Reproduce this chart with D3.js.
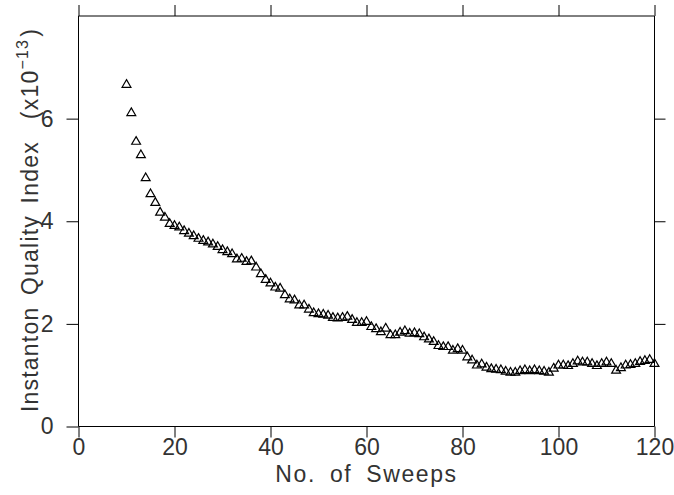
<!DOCTYPE html>
<html>
<head>
<meta charset="utf-8">
<script src="https://cdn.jsdelivr.net/npm/d3@7"></script>
<style>
  body { margin: 0; background: #fff; }
  text { font-family: 'Liberation Sans', Arial, sans-serif; fill: #333; }
</style>
</head>
<body>
<div id="chart"></div>
<script>
// sweep number and instanton quality index (units of 1e-13)
const sweeps = [
  10, 11, 12, 13, 14, 15, 16, 17, 18, 19, 20, 21, 22, 23, 24, 25, 26, 27, 28, 29,
  30, 31, 32, 33, 34, 35, 36, 37, 38, 39, 40, 41, 42, 43, 44, 45, 46, 47, 48, 49,
  50, 51, 52, 53, 54, 55, 56, 57, 58, 59, 60, 61, 62, 63, 64, 65, 66, 67, 68, 69,
  70, 71, 72, 73, 74, 75, 76, 77, 78, 79, 80, 81, 82, 83, 84, 85, 86, 87, 88, 89,
  90, 91, 92, 93, 94, 95, 96, 97, 98, 99, 100, 101, 102, 103, 104, 105, 106, 107, 108, 109,
  110, 111, 112, 113, 114, 115, 116, 117, 118, 119, 120
]
const quality = [
  6.66, 6.11, 5.55, 5.29, 4.84, 4.53, 4.36, 4.17, 4.07, 3.95, 3.91, 3.88, 3.81, 3.76, 3.71, 3.66, 3.62, 3.59, 3.55, 3.50,
  3.44, 3.40, 3.36, 3.26, 3.27, 3.21, 3.22, 3.10, 2.97, 2.86, 2.79, 2.71, 2.69, 2.56, 2.48, 2.46, 2.36, 2.36, 2.28, 2.21,
  2.19, 2.18, 2.16, 2.12, 2.11, 2.12, 2.14, 2.08, 2.02, 2.02, 2.04, 1.94, 1.90, 1.84, 1.91, 1.78, 1.78, 1.83, 1.86, 1.81,
  1.82, 1.80, 1.74, 1.70, 1.65, 1.57, 1.55, 1.55, 1.48, 1.51, 1.48, 1.35, 1.29, 1.19, 1.21, 1.15, 1.12, 1.11, 1.10, 1.07,
  1.05, 1.05, 1.08, 1.10, 1.08, 1.10, 1.08, 1.07, 1.05, 1.13, 1.19, 1.19, 1.18, 1.22, 1.27, 1.25, 1.25, 1.22, 1.18, 1.22,
  1.25, 1.22, 1.09, 1.14, 1.19, 1.20, 1.22, 1.26, 1.28, 1.30, 1.22
]
const xTicks = [0, 20, 40, 60, 80, 100, 120]
const yTicks = [0, 2, 4, 6]
const rightTicks = [2, 4, 6]

const width = 674
const height = 495
const plotLeft = 78.5
const plotRight = 654.5
const plotTop = 16
const plotBottom = 426.5

const xScale = d3.scaleLinear().domain([0, 120]).range([plotLeft, plotRight])
const yScale = d3.scaleLinear().domain([0, 8]).range([plotBottom, plotTop])

const svg = d3
  .select('#chart')
  .append('svg')
  .attr('width', width)
  .attr('height', height)

// bottom axis (ticks point down)
svg
  .append('g')
  .attr('transform', `translate(0, ${plotBottom})`)
  .call(d3.axisBottom(xScale).tickValues(xTicks).tickSize(11).tickPadding(1).tickFormat(d3.format('d')))
  .call((g) => g.select('.domain').attr('d', `M${plotLeft},0H${plotRight}`))

// top axis, ticks only
svg
  .append('g')
  .attr('transform', `translate(0, ${plotTop})`)
  .call(d3.axisTop(xScale).tickValues(xTicks).tickSize(11).tickFormat(''))
  .call((g) => g.select('.domain').attr('d', `M${plotLeft},0H${plotRight}`))

// left axis
svg
  .append('g')
  .attr('transform', `translate(${plotLeft}, 0)`)
  .call(d3.axisLeft(yScale).tickValues(yTicks).tickSize(12).tickPadding(13).tickFormat(d3.format('d')))
  .call((g) => g.select('.domain').attr('d', `M0,${plotTop}V${plotBottom}`))

// right axis
svg
  .append('g')
  .attr('transform', `translate(${plotRight}, 0)`)
  .call(d3.axisRight(yScale).tickValues(rightTicks).tickSize(11).tickFormat(''))
  .call((g) => g.select('.domain').attr('d', `M0,${plotTop}V${plotBottom}`))

svg.selectAll('.domain, .tick line').attr('stroke', '#000').attr('stroke-width', 1)
svg
  .selectAll('.tick text')
  .attr('fill', '#333')
  .style('font-size', '23px')
  .style('font-family', "'Liberation Sans', Arial, sans-serif")

// axis titles
svg
  .append('text')
  .attr('x', (plotLeft + plotRight) / 2)
  .attr('y', 482)
  .attr('text-anchor', 'middle')
  .style('font-size', '23px')
  .style('letter-spacing', '1.6px')
  .style('word-spacing', '6px')
  .text('No. of Sweeps')

const yLabel = svg
  .append('text')
  .attr('transform', 'translate(38, 412) rotate(-90)')
  .style('font-size', '23px')
  .style('letter-spacing', '1.2px')
  .style('word-spacing', '4px')

yLabel.append('tspan').text('Instanton Quality Index')
yLabel.append('tspan').attr('dx', 22).text('(x10')
yLabel.append('tspan').attr('dy', -10).style('font-size', '16px').text('\u221213')
yLabel.append('tspan').attr('dy', 10).attr('dx', 2).text(')')

// data markers: open triangles
const triangle = d3.symbol().type(d3.symbolTriangle).size(34)

svg
  .append('g')
  .selectAll('path')
  .data(sweeps)
  .enter()
  .append('path')
  .attr('d', triangle)
  .attr('transform', (d, i) => `translate(${xScale(d)}, ${yScale(quality[i])})`)
  .attr('fill', 'none')
  .attr('stroke', '#000')
  .attr('stroke-width', 1.2)
</script>
</body>
</html>
